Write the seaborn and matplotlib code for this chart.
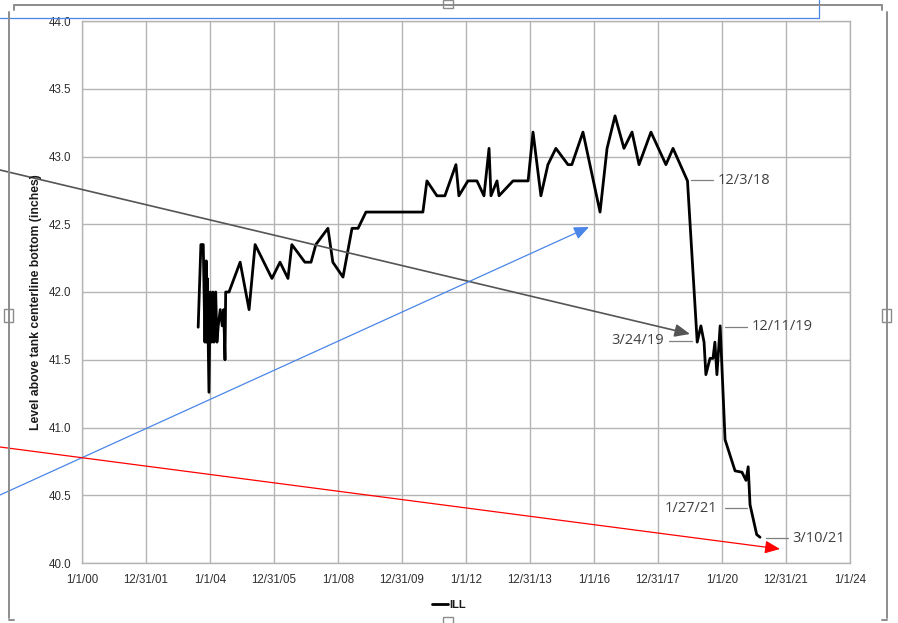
import matplotlib
matplotlib.use("Agg")
import matplotlib.pyplot as plt
import seaborn as sns
import pandas as pd
from matplotlib.patches import FancyArrowPatch, Rectangle
from matplotlib.lines import Line2D

# ---------------- data ----------------
dates = [
    "2003-08-19", "2003-09-19", "2003-10-16", "2003-11-04", "2003-11-19", "2003-11-24",
    "2003-12-01", "2003-12-20", "2004-01-04", "2004-01-20", "2004-02-04", "2004-02-15",
    "2004-02-27", "2004-03-06", "2004-03-20", "2004-04-04", "2004-04-27", "2004-05-20",
    "2004-06-05", "2004-06-20", "2004-06-28", "2004-08-05", "2004-12-10", "2005-03-22",
    "2005-05-30", "2005-12-08", "2006-03-10", "2006-06-09", "2006-07-23", "2006-12-19",
    "2007-02-27", "2007-04-23", "2007-09-08", "2007-11-03", "2008-02-27", "2008-06-09",
    "2008-08-17", "2008-11-15", "2010-08-27", "2010-10-12", "2011-02-03", "2011-05-05",
    "2011-09-08", "2011-10-12", "2012-01-23", "2012-05-05", "2012-07-24", "2012-09-20",
    "2012-10-12", "2012-12-20", "2013-01-12", "2013-06-21", "2013-12-10", "2014-02-04",
    "2014-05-05", "2014-07-24", "2014-10-23", "2015-03-10", "2015-04-23", "2015-08-28",
    "2016-03-10", "2016-05-29", "2016-08-28", "2016-12-08", "2017-03-10", "2017-05-29",
    "2017-10-12", "2018-04-01", "2018-06-21", "2018-12-03", "2019-03-24", "2019-05-05",
    "2019-06-10", "2019-07-01", "2019-08-17", "2019-09-20", "2019-10-12", "2019-11-04",
    "2019-12-11", "2020-02-05", "2020-05-29", "2020-08-16", "2020-10-01", "2020-10-26",
    "2020-11-16", "2021-01-31", "2021-03-10",
]
levels = [
    41.74, 42.35, 42.35, 41.63, 42.23, 41.63,
    42.10, 41.26, 42.00, 41.63, 42.00, 41.63,
    41.75, 42.00, 41.63, 41.75, 41.87, 41.75,
    41.87, 41.50, 42.00, 42.00, 42.22, 41.87,
    42.35, 42.10, 42.22, 42.10, 42.35, 42.22,
    42.22, 42.35, 42.47, 42.22, 42.11, 42.47,
    42.47, 42.59, 42.59, 42.82, 42.71, 42.71,
    42.94, 42.71, 42.82, 42.82, 42.71, 43.06,
    42.71, 42.82, 42.71, 42.82, 42.82, 43.18,
    42.71, 42.94, 43.06, 42.94, 42.94, 43.18,
    42.59, 43.06, 43.30, 43.06, 43.18, 42.94,
    43.18, 42.94, 43.06, 42.82, 41.63, 41.75,
    41.63, 41.39, 41.51, 41.51, 41.63, 41.39,
    41.75, 40.91, 40.68, 40.67, 40.61, 40.71,
    40.43, 40.21, 40.19,
]
series_name = "ILL"
x_tick_dates = ["2000-01-01", "2001-12-31", "2004-01-01", "2005-12-31", "2008-01-01",
                "2009-12-31", "2012-01-01", "2013-12-31", "2016-01-01", "2017-12-31",
                "2020-01-01", "2021-12-31", "2024-01-01"]
x_tick_labels = ["1/1/00", "12/31/01", "1/1/04", "12/31/05", "1/1/08", "12/31/09",
                 "1/1/12", "12/31/13", "1/1/16", "12/31/17", "1/1/20", "12/31/21", "1/1/24"]
y_ticks = [40.0, 40.5, 41.0, 41.5, 42.0, 42.5, 43.0, 43.5, 44.0]
y_label = "Level above tank centerline bottom (inches)"
callouts = ["12/3/18", "3/24/19", "12/11/19", "1/27/21", "3/10/21"]

# ---------------- figure ----------------
W, H = 898, 623
sns.set_theme(style="white")
plt.rcParams["font.family"] = ["Liberation Sans", "DejaVu Sans"]

fig = plt.figure(figsize=(W / 100, H / 100), dpi=100)
fig.patch.set_facecolor("white")


def F(x, y):
    """top-left pixel -> figure fraction"""
    return (x / W, 1 - y / H)


ax = fig.add_axes([82 / W, 1 - 563 / H, 768 / W, 542 / H])

df = pd.DataFrame({"date": pd.to_datetime(dates), "level": levels})
sns.lineplot(data=df, x="date", y="level", color="black", lw=2.0,
             estimator=None, ax=ax, label=series_name)

ax.set_xlim(pd.Timestamp(x_tick_dates[0]), pd.Timestamp(x_tick_dates[-1]))
ax.set_ylim(y_ticks[0], y_ticks[-1])
ax.set_xticks(pd.to_datetime(x_tick_dates))
ax.set_xticklabels(x_tick_labels)
ax.set_yticks(y_ticks)
ax.set_yticklabels([f"{v:.1f}" for v in y_ticks])
ax.set_xlabel("")
ax.set_ylabel("")

gcol = "#b4b4b4"
ax.grid(True, color=gcol, lw=1.0)
ax.set_axisbelow(True)
for s in ax.spines.values():
    s.set_color(gcol)
    s.set_linewidth(1.0)
ax.tick_params(axis="both", direction="out", length=3, width=1.0, color=gcol,
               labelsize=8.3, labelcolor="#2e2e2e", pad=5)

fig.text(36 / W, 1 - 302 / H, y_label, rotation=90, ha="center", va="center",
         fontsize=8.8, fontweight="bold", color="#1a1a1a")

# legend
leg = ax.legend(loc="center", bbox_to_anchor=F(449, 605), bbox_transform=fig.transFigure,
                frameon=False, handlelength=1.4, handletextpad=0.15,
                prop={"weight": "bold", "size": 8})
for t in leg.get_texts():
    t.set_color("#1a1a1a")

# ---------------- callout labels ----------------
lab_col = "#404040"
lab_font = {"family": ["Open Sans", "DejaVu Sans"], "size": 10.5, "color": lab_col}
# (text x, text y, ha, leader x0, leader x1)
callout_pos = [
    (718, 180, "left", 691, 713),
    (664, 341, "right", 669, 692),
    (752, 327, "left", 725, 747),
    (717, 508, "right", 725, 747),
    (792, 538, "left", 766, 788),
]
for txt, (tx, ty, ha, lx0, lx1) in zip(callouts, callout_pos):
    fig.text(*F(tx, ty), txt, ha=ha, va="center", **lab_font)
    fig.add_artist(Line2D([lx0 / W, lx1 / W], [1 - ty / H, 1 - ty / H],
                          transform=fig.transFigure, color="#7f7f7f", lw=0.9))

# ---------------- overlay drawing objects ----------------
def arrow(p0, p1, col, lw=1.1):
    a = FancyArrowPatch(F(*p0), F(*p1), transform=fig.transFigure,
                        arrowstyle="-|>,head_length=0.7,head_width=0.3",
                        mutation_scale=13, color=col, lw=lw,
                        shrinkA=0, shrinkB=0)
    fig.add_artist(a)

arrow((0, 170), (690, 334), "#555555", 1.2)
arrow((0, 495), (589, 227), "#4a86e8", 0.9)
arrow((0, 447), (780, 549), "#ff0000", 0.9)

# blue rectangle (selected shape) at top
blue = "#4a86e8"
fig.add_artist(Line2D([0, 819 / W], [1 - 18 / H] * 2, transform=fig.transFigure, color=blue, lw=0.9))
fig.add_artist(Line2D([819 / W] * 2, [1 - 18 / H, 1], transform=fig.transFigure, color=blue, lw=0.9))

# chart-area frame with handles
fcol = "#8c8c8c"
def fl(xs, ys, lw=1.4):
    fig.add_artist(Line2D([x / W for x in xs], [1 - y / H for y in ys],
                          transform=fig.transFigure, color=fcol, lw=lw))

fl([14, 882], [5, 5])
fl([14, 14], [5, 10])
fl([882, 882], [5, 10])
fl([9, 9], [12, 618])
fl([887, 887], [12, 618])
fl([9, 14], [620, 620])
fl([882, 887], [620, 620])

for (x0, y0, w, h) in [(443, 0, 10, 8), (4, 309, 9, 13), (882, 309, 9, 13), (443, 617, 10, 8)]:
    fig.add_artist(Rectangle((x0 / W, 1 - (y0 + h) / H), w / W, h / H,
                             transform=fig.transFigure, facecolor="white",
                             edgecolor=fcol, lw=1.0))

fig.savefig("out.png", dpi=100, facecolor="white")
